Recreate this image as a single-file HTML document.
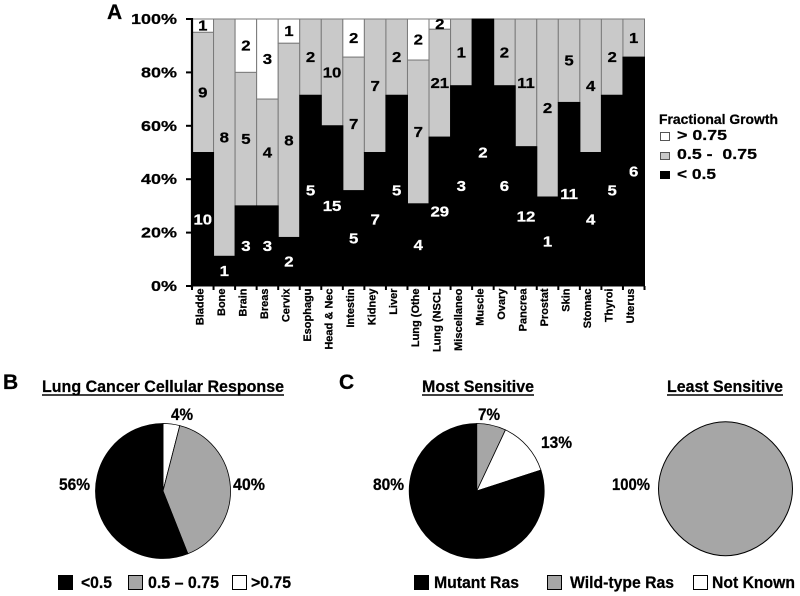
<!DOCTYPE html>
<html>
<head>
<meta charset="utf-8">
<title>Fractional growth by tumor type</title>
<style>
html,body{margin:0;padding:0;background:#fff;width:800px;height:596px;overflow:hidden}
svg{display:block}
text{font-family:"Liberation Sans",sans-serif;font-weight:bold;fill:#000;stroke:#000;stroke-width:.25}
</style>
</head>
<body>
<svg id="fig" width="800" height="596" viewBox="0 0 800 596" xmlns="http://www.w3.org/2000/svg">
  <rect width="800" height="596" fill="#fff"/>
  <g id="bars"></g>
  <g id="axes"></g>
  <g id="pies"></g>

  <text x="107" y="19" font-size="21">A</text>
  <text x="3" y="389" font-size="21">B</text>
  <text x="339" y="389" font-size="21">C</text>

  <g>
    <text x="659" y="124" font-size="14" textLength="119" lengthAdjust="spacingAndGlyphs">Fractional Growth</text>
    <rect x="660.5" y="132.5" width="9" height="8" fill="#fff" stroke="#555"/>
    <text x="677" y="140" font-size="15" textLength="50" lengthAdjust="spacingAndGlyphs">&gt; 0.75</text>
    <rect x="660.5" y="152.5" width="9" height="7" fill="#c8c8c8" stroke="#555"/>
    <text x="677" y="159" font-size="15" textLength="80" lengthAdjust="spacingAndGlyphs" xml:space="preserve">0.5 -  0.75</text>
    <rect x="660.5" y="171.5" width="9" height="7" fill="#000" stroke="#000"/>
    <text x="677" y="179" font-size="15" textLength="39" lengthAdjust="spacingAndGlyphs">&lt; 0.5</text>
  </g>

  <g>
    <text x="42" y="392" font-size="17" textLength="242" lengthAdjust="spacingAndGlyphs">Lung Cancer Cellular Response</text>
    <line x1="42" x2="284" y1="395" y2="395" stroke="#000" stroke-width="1.5"/>
    <text x="171" y="420" font-size="17" textLength="22" lengthAdjust="spacingAndGlyphs">4%</text>
    <text x="59" y="490" font-size="17" textLength="31" lengthAdjust="spacingAndGlyphs">56%</text>
    <text x="233" y="490" font-size="17" textLength="32" lengthAdjust="spacingAndGlyphs">40%</text>
    <rect x="58.5" y="575.5" width="14" height="14" fill="#000" stroke="#000"/>
    <text x="81" y="588" font-size="17" textLength="31" lengthAdjust="spacingAndGlyphs">&lt;0.5</text>
    <rect x="128.5" y="575.5" width="14" height="14" fill="#a6a6a6" stroke="#000"/>
    <text x="148" y="588" font-size="17" textLength="71" lengthAdjust="spacingAndGlyphs">0.5 – 0.75</text>
    <rect x="232.5" y="575.5" width="14" height="14" fill="#fff" stroke="#000"/>
    <text x="251" y="588" font-size="17" textLength="40" lengthAdjust="spacingAndGlyphs">&gt;0.75</text>
  </g>

  <g>
    <text x="422" y="392" font-size="17" textLength="112" lengthAdjust="spacingAndGlyphs">Most Sensitive</text>
    <line x1="422" x2="534" y1="395" y2="395" stroke="#000" stroke-width="1.5"/>
    <text x="667" y="392" font-size="17" textLength="116" lengthAdjust="spacingAndGlyphs">Least Sensitive</text>
    <line x1="667" x2="783" y1="395" y2="395" stroke="#000" stroke-width="1.5"/>
    <text x="478" y="420" font-size="17" textLength="22" lengthAdjust="spacingAndGlyphs">7%</text>
    <text x="541" y="448" font-size="17" textLength="31" lengthAdjust="spacingAndGlyphs">13%</text>
    <text x="373" y="490" font-size="17" textLength="31" lengthAdjust="spacingAndGlyphs">80%</text>
    <text x="612" y="490" font-size="17" textLength="38" lengthAdjust="spacingAndGlyphs">100%</text>
    <rect x="414.5" y="575.5" width="14" height="14" fill="#000" stroke="#000"/>
    <text x="434" y="588" font-size="17" textLength="85" lengthAdjust="spacingAndGlyphs">Mutant Ras</text>
    <rect x="547.5" y="575.5" width="14" height="14" fill="#a6a6a6" stroke="#000"/>
    <text x="570" y="588" font-size="17" textLength="104" lengthAdjust="spacingAndGlyphs">Wild-type Ras</text>
    <rect x="693.5" y="575.5" width="14" height="14" fill="#fff" stroke="#000"/>
    <text x="712" y="588" font-size="17" textLength="83" lengthAdjust="spacingAndGlyphs">Not Known</text>
  </g>
</svg>
<script>
const categories = ["Bladde","Bone","Brain","Breas","Cervix","Esophagu","Head & Nec","Intestin","Kidney","Liver","Lung (Othe","Lung (NSCL","Miscellaneo","Muscle","Ovary","Pancrea","Prostat","Skin","Stomac","Thyroi","Uterus"];
const lowCounts  = [10,1,3,3,2,5,15,5,7,5,4,29,3,2,6,12,1,11,4,5,6];
const midCounts  = [9,8,5,4,8,2,10,7,7,2,7,21,1,0,2,11,2,5,4,2,1];
const highCounts = [1,0,2,3,1,0,0,2,0,0,2,2,0,0,0,0,0,0,0,0,0];
const yTicks = [0,20,40,60,80,100];
const lungValues = [4,40,56];
const mostValues = [7,13,80];
const leastValues = [100];

const NS = "http://www.w3.org/2000/svg";
function mk(tag, attrs, parent){
  const e = document.createElementNS(NS, tag);
  for (const k in attrs) e.setAttribute(k, attrs[k]);
  parent.appendChild(e);
  return e;
}
const plotL = 192, plotR = 644.5, y0 = 286, y100 = 19;
const bandW = (plotR - plotL) / categories.length;
const xBand = i => plotL + i * bandW;
const yPct = p => y0 - (y0 - y100) * p / 100;

const barsG = document.getElementById("bars");
const axesG = document.getElementById("axes");
const piesG = document.getElementById("pies");

function segment(i, fromPct, toPct, fill, stroke){
  const r = mk("rect", {x:xBand(i), y:yPct(toPct), width:bandW, height:yPct(fromPct)-yPct(toPct), fill:fill, stroke:stroke, "stroke-width":1}, barsG);
  
  
}
function countLabel(i, fromPct, toPct, count, color){
  const cx = xBand(i) + bandW/2;
  const cy = yPct((fromPct+toPct)/2) + 5;
  const t = mk("text", {"text-anchor":"middle", "font-size":15, transform:`translate(${cx},${cy}) scale(1.12,1)`, style:`fill:${color};stroke:${color}`}, barsG);
  
  
  t.textContent = count;
}
const pending = [];
categories.forEach((c,i) => {
  const total = lowCounts[i] + midCounts[i] + highCounts[i];
  const a = lowCounts[i]/total*100;
  const b = a + midCounts[i]/total*100;
  if (highCounts[i] > 0){ segment(i,b,100,"#fff","#7a7a7a"); pending.push([i,b,100,highCounts[i],"#000"]); }
  if (midCounts[i] > 0){ segment(i,a,b,"#c9c9c9","#7a7a7a"); pending.push([i,a,b,midCounts[i],"#000"]); }
  if (lowCounts[i] > 0){ pending.push([i,0,a,lowCounts[i],"#fff"]); }
});
categories.forEach((c,i) => {
  const total = lowCounts[i] + midCounts[i] + highCounts[i];
  const a = lowCounts[i]/total*100;
  if (lowCounts[i] > 0) segment(i,0,a,"#000","#000");
});
pending.forEach(p => countLabel(p[0],p[1],p[2],p[3],p[4]));

const yLine = mk("line", {x1:plotL, x2:plotL, y1:y100-1, y2:y0+2, stroke:"#000", "stroke-width":2.2}, axesG);


yTicks.forEach(v => {
  const y = yPct(v);
  const tk = mk("line", {x1:186, x2:plotL, y1:y, y2:y, stroke:"#000", "stroke-width":2}, axesG);
  
  
  const t = mk("text", {"text-anchor":"end", "font-size":15, transform:`translate(177,${y+5}) scale(1.2,1)`}, axesG);
  
  
  t.textContent = v + "%";
});
for (let i = 0; i <= categories.length; i++){
  const tk = mk("line", {x1:xBand(i), x2:xBand(i), y1:y0, y2:y0+4, stroke:"#000", "stroke-width":2}, axesG);
  
  
}
categories.forEach((c,i) => {
  const x = xBand(i) + bandW/2 + 0.5;
  const t = mk("text", {"text-anchor":"end", "font-size":11, transform:`translate(${x},288.5) rotate(-90)`}, axesG);
  
  
  t.textContent = c;
});

function pie(cx, cy, r, values, fills, name){
  const total = values.reduce((s,v) => s+v, 0);
  if (values.length === 1){
    const k = r * 0.52;
    const d = `M${cx},${cy-r}C${cx+k},${cy-r} ${cx+r},${cy-k} ${cx+r},${cy}C${cx+r},${cy+k} ${cx+k},${cy+r} ${cx},${cy+r}C${cx-k},${cy+r} ${cx-r},${cy+k} ${cx-r},${cy}C${cx-r},${cy-k} ${cx-k},${cy-r} ${cx},${cy-r}Z`;
    const p = mk("path", {d:d, fill:fills[0], stroke:"#000", "stroke-width":1}, piesG);
    
    
    return;
  }
  let acc = 0;
  values.forEach((v,i) => {
    const a0 = acc/total*2*Math.PI;
    acc += v;
    const a1 = acc/total*2*Math.PI;
    const x0 = cx + r*Math.sin(a0), y0p = cy - r*Math.cos(a0);
    const x1 = cx + r*Math.sin(a1), y1p = cy - r*Math.cos(a1);
    const large = (a1-a0) > Math.PI ? 1 : 0;
    const p = mk("path", {d:`M${cx},${cy}L${x0},${y0p}A${r},${r} 0 ${large} 1 ${x1},${y1p}Z`, fill:fills[i], stroke:"#000", "stroke-width":0.8}, piesG);
    
    
  });
}
pie(163, 491, 67.5, lungValues, ["#fff","#a6a6a6","#000"], "lung-pie-slice");
pie(476.7, 491, 67.5, mostValues, ["#a6a6a6","#fff","#000"], "most-sensitive-pie-slice");
pie(725.5, 488.7, 67, leastValues, ["#a6a6a6"], "least-sensitive-pie-slice");
</script>
</body>
</html>
